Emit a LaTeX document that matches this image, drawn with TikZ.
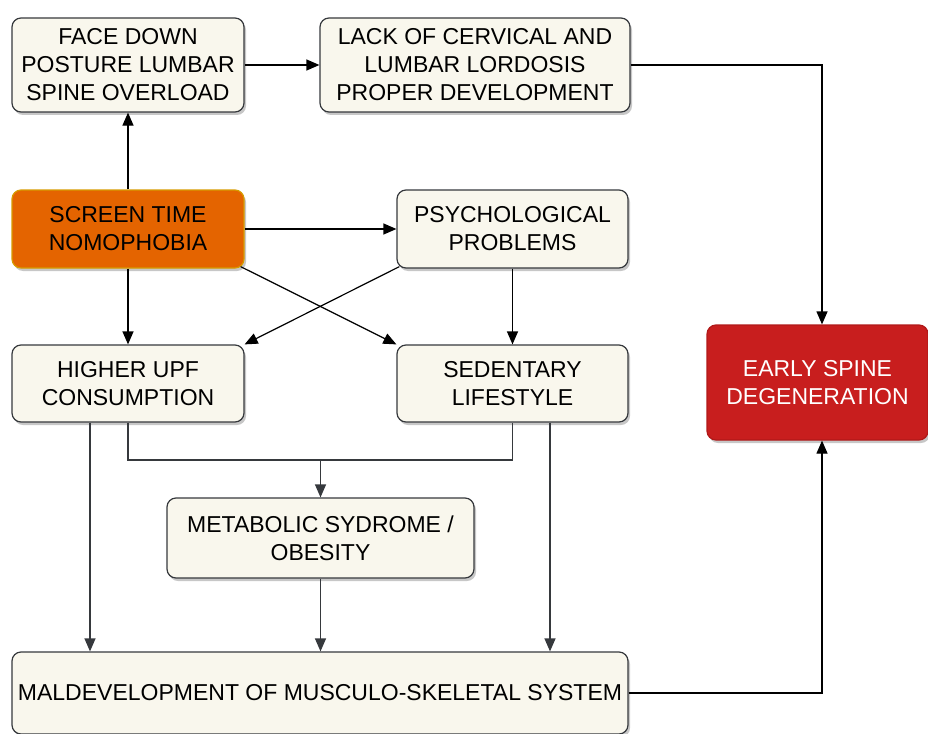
\documentclass[tikz,border=0pt]{standalone}
\usepackage{fontspec}
\setmainfont{Liberation Sans}
\usetikzlibrary{arrows.meta,shadows}
\definecolor{paper}{HTML}{F9F7ED}
\definecolor{boxline}{HTML}{36393D}
\definecolor{hotfill}{HTML}{E46400}
\definecolor{hotline}{HTML}{D79B00}
\definecolor{redfill}{HTML}{C81E1E}
\definecolor{redline}{HTML}{B01818}
\begin{document}
\begin{tikzpicture}[x=1pt, y=-1pt,
  box/.style={draw=boxline, line width=1.2pt, fill=paper, rounded corners=9pt,
    align=center, inner sep=0pt, font=\fontsize{23}{28}\selectfont,
    drop shadow={shadow xshift=2pt, shadow yshift=-3pt, opacity=0.22, fill=black}},
  hotbox/.style={box, fill=hotfill, draw=hotline},
  redbox/.style={box, fill=redfill, draw=redline, text=white},
  link/.style={draw=black, line width=1.2pt, -{Triangle[length=13pt,width=11pt]}},
  glink/.style={link, draw=boxline},
  gline/.style={draw=boxline, line width=1.2pt}]
  \useasboundingbox (0,0) rectangle (928,733);
  % boxes
  \node[box, minimum width=232pt, minimum height=94pt] (face) at (128,65) {FACE DOWN\\POSTURE LUMBAR\\SPINE OVERLOAD};
  \node[box, minimum width=310pt, minimum height=94pt] (lack) at (475,65) {LACK OF CERVICAL AND\\LUMBAR LORDOSIS\\PROPER DEVELOPMENT};
  \node[hotbox, minimum width=232pt, minimum height=78pt] (screen) at (128,229) {SCREEN TIME\\NOMOPHOBIA};
  \node[box, minimum width=231pt, minimum height=78pt] (psych) at (512.5,229) {PSYCHOLOGICAL\\PROBLEMS};
  \node[box, minimum width=232pt, minimum height=77pt] (upf) at (128,383.5) {HIGHER UPF\\CONSUMPTION};
  \node[box, minimum width=231pt, minimum height=77pt] (sed) at (512.5,383.5) {SEDENTARY\\LIFESTYLE};
  \node[redbox, minimum width=221pt, minimum height=115pt] (early) at (817.5,382.5) {EARLY SPINE\\DEGENERATION};
  \node[box, minimum width=307pt, minimum height=80pt] (metab) at (320.5,538) {METABOLIC SYDROME /\\OBESITY};
  \node[box, minimum width=616pt, minimum height=82pt] (mal) at (320,693) {MALDEVELOPMENT OF MUSCULO-SKELETAL SYSTEM};
  % upper links
  \draw[link] (screen) -- (face);
  \draw[link] (face) -- (lack);
  \draw[link] (lack.east) -| ([xshift=4.5pt]early.north);
  \draw[link] (screen) -- (psych);
  \draw[link] (screen) -- (upf);
  \draw[link] ([shift={(-4,-2)}]screen.south east) -- (sed.north west);
  \draw[link] ([shift={(3,-2)}]psych.south west) -- (upf.north east);
  \draw[link] (psych) -- (sed);
  % lower links
  \coordinate (join) at (320.5,460);
  \draw[gline] (upf.south) |- (join) -| (sed.south);
  \draw[glink] (join) -- (metab);
  \coordinate (u1) at ([xshift=-38pt]upf.south);
  \coordinate (s1) at ([xshift=37.5pt]sed.south);
  \draw[glink] (u1) -- (u1 |- mal.north);
  \draw[glink] (s1) -- (s1 |- mal.north);
  \draw[glink] (metab) -- (metab |- mal.north);
  \draw[link] (mal.east) -| ([xshift=4.5pt]early.south);
\end{tikzpicture}
\end{document}
